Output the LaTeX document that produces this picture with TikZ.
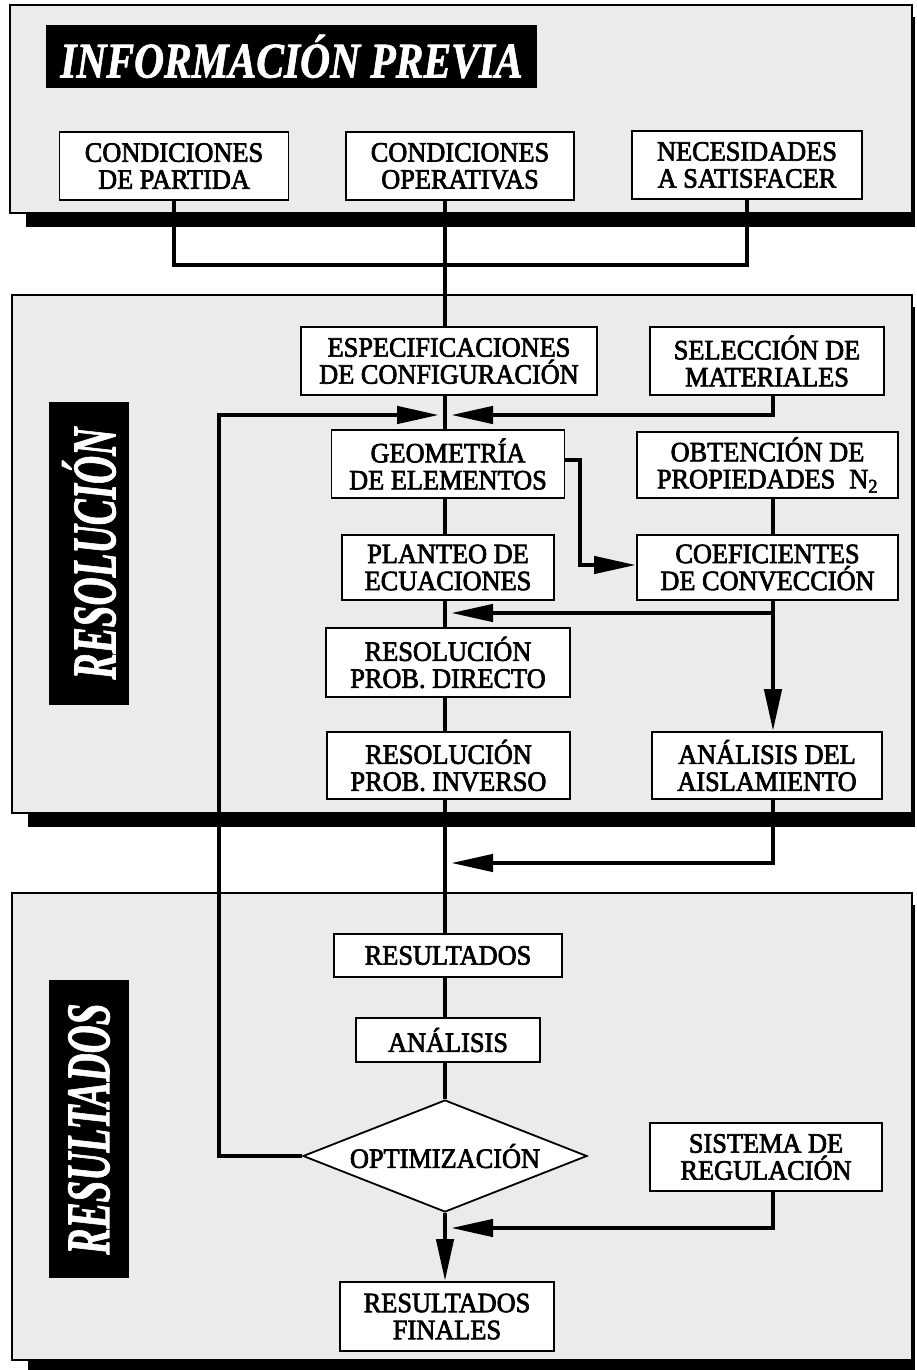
\documentclass[tikz,border=0pt]{standalone}
\usepackage{fontspec}
\usepackage{graphicx}
\setmainfont{Liberation Serif}
\newfontfamily\boxfam{Liberation Serif}[FakeBold=2.5,FakeStretch=0.94]
\newfontfamily\headfam{Liberation Serif}[BoldItalicFeatures={FakeBold=1.5}]
\usetikzlibrary{arrows.meta,shapes.geometric,calc}
\newcommand{\boxfont}{\boxfam\fontsize{28}{27}\selectfont}
\newcommand{\headfont}{\headfam\fontsize{50}{52}\selectfont\bfseries\itshape}
\newcommand{\sidefont}{\headfam\fontsize{62}{64}\selectfont\bfseries\itshape}
\begin{document}
\begin{tikzpicture}[x=1pt,y=-1pt,line join=miter,
  box/.style={draw,line width=1.8pt,fill=white,align=center,inner sep=0pt,font=\boxfont},
  panel/.style={draw,line width=1.6pt,fill=black!8},
  conn/.style={line width=4.5pt},
  arr/.style={conn,-{Triangle[length=42pt,width=17pt]}},
  tbox/.style={fill=black,text=white,inner sep=0pt}]
\useasboundingbox (0,0) rectangle (916,1370);
% panels with shadows
\fill[black] (26,17) rectangle (915,227);
\draw[panel] (10,5) rectangle (912,213);
\fill[black] (28,307) rectangle (915,827);
\draw[panel] (12,295) rectangle (912,813);
\fill[black] (28,905) rectangle (915,1370);
\draw[panel] (12,893) rectangle (912,1360);
% titles
\node[tbox,minimum width=491pt,minimum height=63pt] (t1) at (291.5,56.5) {\headfont\scalebox{0.83}[1]{INFORMACIÓN PREVIA}};
\node[tbox,rotate=90,minimum width=303pt,minimum height=80pt] (t2) at (89,553.5) {\sidefont\scalebox{0.63}[1]{RESOLUCIÓN}};
\node[tbox,rotate=90,minimum width=298pt,minimum height=80pt] (t3) at (89,1129) {\sidefont\scalebox{0.63}[1]{RESULTADOS}};
% boxes
\node[box,minimum width=229pt,minimum height=68pt] (b1) at (174,166) {CONDICIONES\\DE PARTIDA};
\node[box,minimum width=228pt,minimum height=68pt] (b2) at (460,166) {CONDICIONES\\OPERATIVAS};
\node[box,minimum width=230pt,minimum height=68pt] (b3) at (747,165) {NECESIDADES\\A SATISFACER};
\node[box,minimum width=296pt,minimum height=68pt] (espec) at (449,361) {ESPECIFICACIONES\\DE CONFIGURACIÓN};
\node[box,minimum width=234pt,minimum height=68pt] (selec) at (767,361) {SELECCIÓN DE\\MATERIALES};
\node[box,minimum width=233pt,minimum height=68pt] (geom) at (448,464) {GEOMETRÍA\\DE ELEMENTOS};
\node[box,minimum width=261pt,minimum height=66pt] (obten) at (767.5,465) {OBTENCIÓN DE\\PROPIEDADES\enspace N\textsubscript{2}};
\node[box,minimum width=212pt,minimum height=65pt] (plant) at (448,567.5) {PLANTEO DE\\ECUACIONES};
\node[box,minimum width=261pt,minimum height=65pt] (coef) at (767.5,567.5) {COEFICIENTES\\DE CONVECCIÓN};
\node[box,minimum width=244pt,minimum height=69pt] (direc) at (448,662.5) {RESOLUCIÓN\\PROB. DIRECTO};
\node[box,minimum width=243pt,minimum height=67pt] (inver) at (448.5,765.5) {RESOLUCIÓN\\PROB. INVERSO};
\node[box,minimum width=230pt,minimum height=67pt] (aisl) at (767,765.5) {ANÁLISIS DEL\\AISLAMIENTO};
\node[box,minimum width=228pt,minimum height=43pt] (resul) at (448,955.5) {RESULTADOS};
\node[box,minimum width=184pt,minimum height=44pt] (anal) at (448,1040) {ANÁLISIS};
\node[draw,line width=1.8pt,fill=white,shape=diamond,aspect=2.54,minimum width=284pt,minimum height=112pt,inner sep=0pt,font=\boxfont] (opt) at (445,1156) {OPTIMIZACIÓN};
\node[box,minimum width=232pt,minimum height=68pt] (sist) at (766,1157) {SISTEMA DE\\REGULACIÓN};
\node[box,minimum width=214pt,minimum height=69pt] (final) at (447,1316.5) {RESULTADOS\\FINALES};
% guide coordinates
\coordinate (sp) at (445,0);
\coordinate (rc) at (773,0);
\coordinate (fb) at (219,0);
\coordinate (gx) at (580,0);
\coordinate (h1) at (0,265);
\coordinate (a1) at (0,415);
\coordinate (a2) at (0,460);
\coordinate (a3) at (0,565);
\coordinate (a4) at (0,613);
\coordinate (a5) at (0,863);
\coordinate (a6) at (0,1228);
% connectors
\draw[conn] (b1.south) -- (b1.south |- h1) -- (b3.south |- h1) -- (b3.south);
\draw[conn] (b2.south -| sp) -- (espec.north -| sp);
\draw[conn] (espec.south -| sp) -- (geom.north -| sp);
\draw[conn] (geom.south -| sp) -- (plant.north -| sp);
\draw[conn] (plant.south -| sp) -- (direc.north -| sp);
\draw[conn] (direc.south -| sp) -- (inver.north -| sp);
\draw[conn] (inver.south -| sp) -- (resul.north -| sp);
\draw[conn] (resul.south -| sp) -- (anal.north -| sp);
\draw[conn] (anal.south -| sp) -- (opt.north);
\draw[arr] (opt.south) -- (final.north -| opt.south);
\draw[arr] (opt.west) -- (opt.west -| fb) -- (fb |- a1) -- ($(sp |- a1)+(-6,0)$);
\draw[arr] (selec.south -| rc) -- (rc |- a1) -- ($(sp |- a1)+(6,0)$);
\draw[arr] (geom.east |- a2) -- (gx |- a2) -- (gx |- a3) -- (coef.west |- a3);
\draw[conn] (obten.south -| rc) -- (coef.north -| rc);
\draw[arr] (coef.south -| rc) -- (rc |- a4) -- ($(sp |- a4)+(6,0)$);
\draw[arr] (rc |- a4) -- (aisl.north -| rc);
\draw[arr] (aisl.south -| rc) -- (rc |- a5) -- ($(sp |- a5)+(6,0)$);
\draw[arr] (sist.south -| rc) -- (rc |- a6) -- ($(sp |- a6)+(6,0)$);
\end{tikzpicture}
\end{document}
